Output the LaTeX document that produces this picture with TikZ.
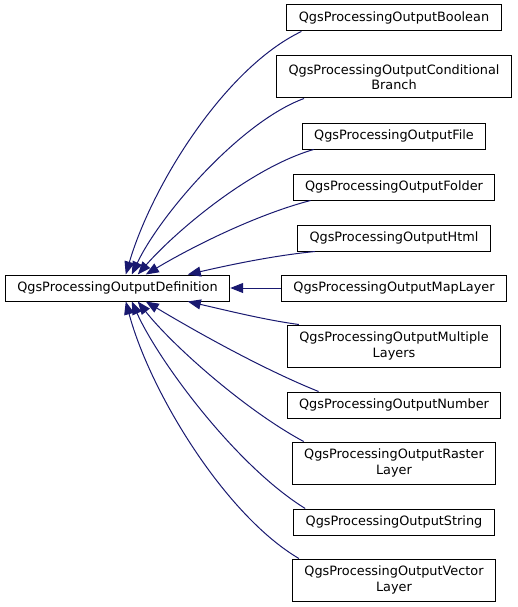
\documentclass[tikz,border=0pt]{standalone}
\usepackage{fontspec}
\setmainfont{DejaVu Sans}
\usetikzlibrary{arrows.meta}
\definecolor{edgeblue}{HTML}{191970}
\begin{document}
\begin{tikzpicture}[x=1pt,y=-1pt,
  cls/.style={draw=black, line width=1pt, fill=white, inner xsep=12pt, inner ysep=2pt,
    minimum height=26pt, align=center, font=\fontsize{12.85}{15.4}\selectfont},
  cls2/.style={cls, minimum height=42pt},
  inh/.style={draw=edgeblue, line width=1pt, -{Triangle[length=13pt,width=10pt]}}]
\useasboundingbox (0,0) rectangle (517,607);

\node[cls] (def) at (117.5,288) {QgsProcessingOutputDefinition};

\node[cls]  (bool)  at (394,18)  {QgsProcessingOutputBoolean};
\node[cls2] (cond)  at (394,77)  {QgsProcessingOutputConditional\\Branch};
\node[cls]  (file)  at (394,136) {QgsProcessingOutputFile};
\node[cls]  (fold)  at (394,187) {QgsProcessingOutputFolder};
\node[cls]  (html)  at (394,238) {QgsProcessingOutputHtml};
\node[cls]  (mapl)  at (394,288) {QgsProcessingOutputMapLayer};
\node[cls2] (mult)  at (394,346) {QgsProcessingOutputMultiple\\Layers};
\node[cls]  (numb)  at (394,405) {QgsProcessingOutputNumber};
\node[cls2] (rast)  at (394,463) {QgsProcessingOutputRaster\\Layer};
\node[cls]  (strg)  at (394,522) {QgsProcessingOutputString};
\node[cls2] (vect)  at (394,580) {QgsProcessingOutputVector\\Layer};

\draw[inh] ([xshift=15pt]bool.south west) .. controls (225,68) and (152,185) .. ([xshift=121pt]def.north west);
\draw[inh] ([xshift=28pt]cond.south west) .. controls (240,122) and (160,215) .. ([xshift=127pt]def.north west);
\draw[inh] ([xshift=12pt]file.south west) .. controls (250,168) and (175,232) .. ([xshift=133pt]def.north west);
\draw[inh] ([xshift=18pt]fold.south west) .. controls (255,215) and (190,248) .. ([xshift=141pt]def.north west);
\draw[inh] ([xshift=18pt]html.south west) .. controls (270,256) and (225,266) .. ([xshift=183pt]def.north west);
\draw[inh] (mapl.west) -- (def.east);
\draw[inh] ([xshift=12pt]mult.north west) .. controls (265,320) and (225,310) .. ([xshift=183pt]def.south west);
\draw[inh] ([xshift=32pt]numb.north west) .. controls (260,368) and (190,328) .. ([xshift=141pt]def.south west);
\draw[inh] ([xshift=12pt]rast.north west) .. controls (245,410) and (172,345) .. ([xshift=133pt]def.south west);
\draw[inh] ([xshift=12pt]strg.north west) .. controls (235,465) and (158,360) .. ([xshift=127pt]def.south west);
\draw[inh] ([xshift=7pt]vect.north west) .. controls (225,515) and (150,392) .. ([xshift=121pt]def.south west);
\end{tikzpicture}
\end{document}
